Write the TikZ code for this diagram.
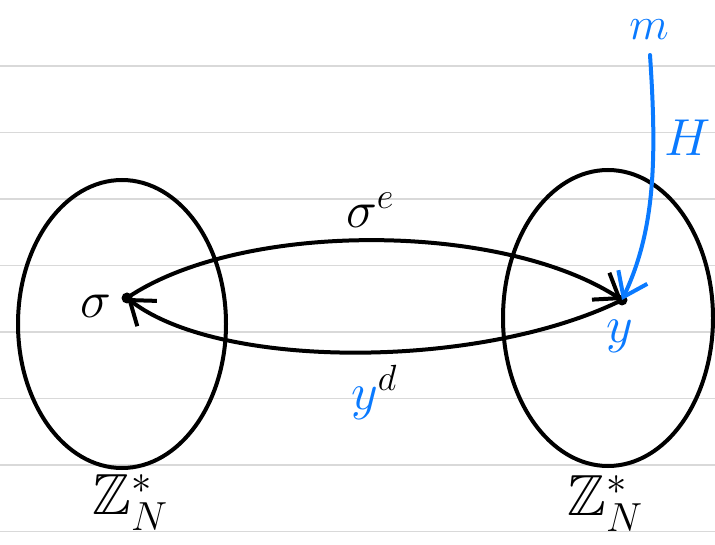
\RequirePackage{fix-cm}
\documentclass[tikz,border=0pt]{standalone}
\usepackage{amssymb}
\usetikzlibrary{arrows.meta,shapes.geometric}
\definecolor{pen}{RGB}{10,122,255}
\definecolor{rule}{RGB}{217,217,217}
\begin{document}
\begin{tikzpicture}[x=1pt,y=-1pt,
  ink/.style={line width=4pt,line cap=round},
  tip/.style={-{Straight Barb[length=22pt,width=32pt,line width=4pt]}},
  lbl/.style={inner sep=0pt,font=\fontsize{52}{52}\selectfont},
  big/.style={inner sep=0pt,font=\fontsize{58}{58}\selectfont}]
\useasboundingbox (0,0) rectangle (715,545);
\fill[white] (0,0) rectangle (715,545);
\foreach \yy in {66,132.5,199,265.5,332,398.5,465,531.5}
  \draw[rule,line width=1.5pt] (0,\yy) -- (715,\yy);
% sets
\node[ink,draw,ellipse,minimum width=208pt,minimum height=288pt,inner sep=0pt] (L) at (122,324) {};
\node[ink,draw,ellipse,minimum width=210pt,minimum height=296pt,inner sep=0pt] (R) at (608,318) {};
% points
\coordinate (s) at (127,298);
\coordinate (y) at (622,300);
\fill (s) circle (5.5pt);
\fill (y) circle (5.5pt);
% arcs
\draw[ink,tip] (s) .. controls (240,221) and (500,221) .. (y);
\draw[ink,tip] (y) .. controls (480,370) and (220,370) .. (s);
% labels
\node[lbl] (sig) at (96,306) {$\sigma$};
\node[lbl] (se) at (370,210) {$\sigma^{e}$};
\node[lbl] (yd) at (374,392) {$\textcolor{pen}{y}^{d}$};
\node[lbl,text=pen] (yl) at (620,336) {$y$};
\node[inner sep=0pt,font=\fontsize{46}{46}\selectfont,text=pen] (m) at (649,30) {$m$};
\node[lbl,text=pen] (H) at (688,138) {$H$};
\node[big] (ZL) at (130,503) {$\mathbb{Z}_N^{*}$};
\node[big] (ZR) at (605,504) {$\mathbb{Z}_N^{*}$};
% hash arrow
\coordinate (mtop) at (650,55);
\draw[ink,pen,tip] (mtop) .. controls (657,160) and (655,230) .. (y);
\end{tikzpicture}
\end{document}
